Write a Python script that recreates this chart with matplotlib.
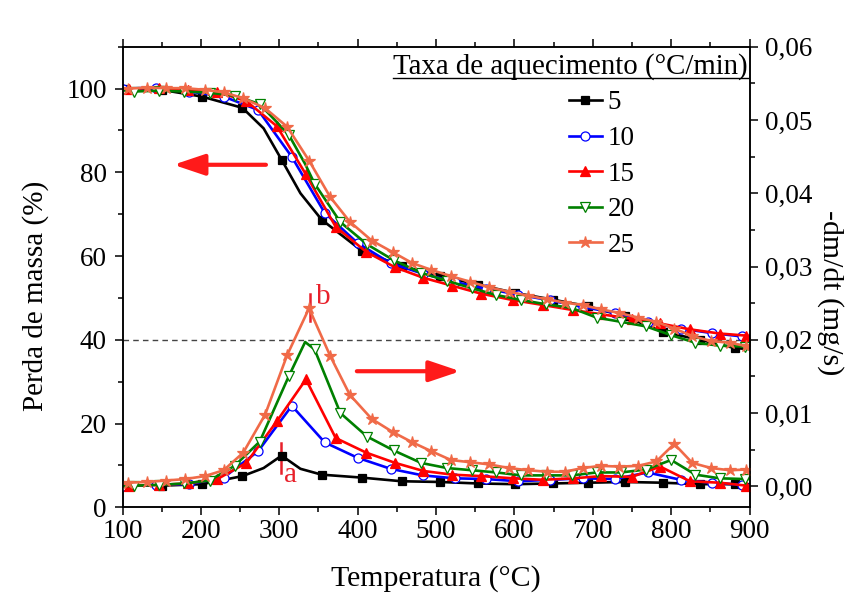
import matplotlib

matplotlib.use("Agg")
import matplotlib.pyplot as plt
from matplotlib.lines import Line2D
from matplotlib.ticker import FuncFormatter, MultipleLocator

plt.rcParams["font.family"] = ["Liberation Serif", "DejaVu Serif"]

# temperature (°C), mass (%) and -dm/dt (mg/s)
# heating rate 5 °C/min
t5 = [100, 150, 201, 253, 280, 303, 327, 354, 405, 456, 505, 553, 601, 649, 694, 741, 789, 837, 882, 900]
m5 = [100.0, 99.7, 98.1, 95.4, 90.5, 83.0, 75.0, 68.7, 61.3, 57.6, 55.3, 53.2, 51.2, 49.6, 48.0, 45.6, 41.9, 40.0, 38.0, 37.8]
d5 = [0.0001, 0.0001, 0.0003, 0.0014, 0.0025, 0.0042, 0.0024, 0.0016, 0.0012, 0.0007, 0.0006, 0.0004,
      0.0003, 0.0004, 0.0005, 0.0006, 0.0005, 0.0003, 0.0003, 0.0003]
nomark5 = [280, 327, 900]

# 10 °C/min
t10 = [100, 143, 185, 229, 273, 316, 358, 400, 442, 483, 524, 564, 605, 646, 688, 728, 770, 812, 852, 891, 900]
m10 = [100.0, 100.2, 99.3, 98.1, 94.9, 83.7, 70.3, 63.1, 58.3, 55.8, 53.8, 52.2, 50.8, 49.4, 47.8, 46.5,
       44.2, 42.7, 41.6, 40.8, 40.6]
d10 = [0.0000, 0.0002, 0.0003, 0.0012, 0.0048, 0.0110, 0.0060, 0.0039, 0.0024, 0.0015, 0.0011, 0.0010,
       0.0007, 0.0009, 0.0011, 0.0010, 0.0019, 0.0009, 0.0005, 0.0002, 0.0002]
nomark10 = [900]

# 15 °C/min
t15 = [100, 108, 146, 183, 221, 258, 297, 334, 372, 411, 448, 484, 521, 558, 598, 637, 675, 711, 750, 786,
       824, 862, 896, 900]
m15 = [100.0, 100.0, 100.2, 99.7, 99.2, 97.0, 91.0, 79.5, 67.0, 61.0, 57.3, 54.8, 52.9, 51.0, 49.5, 48.3,
       47.1, 46.1, 45.0, 43.9, 42.5, 41.5, 41.0, 40.9]
d15 = [0.0001, 0.0001, 0.0002, 0.0004, 0.0010, 0.0032, 0.0089, 0.0146, 0.0066, 0.0046, 0.0032, 0.0021,
       0.0016, 0.0014, 0.0011, 0.0009, 0.0011, 0.0014, 0.0013, 0.0027, 0.0007, 0.0005, 0.0001, 0.0001]
nomark15 = [100, 900]

# 20 °C/min
t20 = [100, 115, 147, 179, 211, 243, 275, 312, 333, 345, 378, 412, 446, 481, 514, 546, 577, 609, 640, 673,
       705, 736, 768, 800, 831, 862, 894, 900]
m20 = [99.6, 99.3, 99.5, 99.3, 99.0, 98.3, 96.3, 89.0, 82.0, 77.3, 68.1, 62.8, 59.0, 56.0, 54.1, 52.3,
       50.7, 49.5, 48.5, 47.6, 45.3, 44.3, 43.2, 41.1, 39.3, 38.6, 38.4, 38.3]
d20 = [0.0000, 0.0001, 0.0002, 0.0004, 0.0008, 0.0028, 0.0061, 0.0150, 0.0197, 0.0187, 0.0100, 0.0068,
       0.0049, 0.0032, 0.0025, 0.0022, 0.0019, 0.0015, 0.0015, 0.0015, 0.0019, 0.0019, 0.0023, 0.0036,
       0.0016, 0.0011, 0.0010, 0.0010]
nomark20 = [100, 333, 900]

# 25 °C/min
t25 = [100, 107, 131, 156, 180, 205, 229, 254, 282, 310, 338, 365, 390, 418, 445, 470, 494, 519, 543, 568,
       593, 618, 641, 664, 687, 710, 734, 758, 781, 804, 827, 851, 875, 896, 900]
m25 = [100.0, 100.0, 100.2, 100.1, 100.1, 99.7, 99.1, 97.7, 95.3, 90.9, 82.8, 74.1, 68.2, 63.7, 60.9, 58.3,
       56.7, 55.2, 53.9, 52.5, 51.5, 50.5, 49.7, 48.9, 48.3, 47.3, 46.4, 45.3, 44.3, 42.7, 40.9, 39.7,
       39.3, 38.5, 38.4]
d25 = [0.0004, 0.0005, 0.0006, 0.0008, 0.0010, 0.0014, 0.0022, 0.0046, 0.0098, 0.0179, 0.0243, 0.0178,
       0.0125, 0.0092, 0.0074, 0.0060, 0.0048, 0.0036, 0.0033, 0.0030, 0.0025, 0.0022, 0.0020, 0.0020,
       0.0025, 0.0028, 0.0027, 0.0028, 0.0034, 0.0058, 0.0032, 0.0025, 0.0022, 0.0023, 0.0023]
nomark25 = [100, 900]

rates = ["5", "10", "15", "20", "25"]

fig = plt.figure(figsize=(8.61, 6.08), dpi=100)
ax = fig.add_axes([0.1423, 0.1656, 0.7282, 0.7576])
ax2 = ax.twinx()

styles = [
    (t5, m5, d5, nomark5, "black", "s", "black", 5.5),
    (t10, m10, d10, nomark10, "#0000ff", "o", "white", 6.5),
    (t15, m15, d15, nomark15, "#ff0000", "^", "#ff0000", 7),
    (t20, m20, d20, nomark20, "#008000", "v", "white", 7),
    (t25, m25, d25, nomark25, "#f06a48", "*", "#f06a48", 9),
]

handles = []
for label, (temps, mass, dtg, nomark, color, marker, face, ms) in zip(rates, styles):
    marks = [i for i, t in enumerate(temps) if t not in nomark]
    kw = dict(color=color, lw=1.9, marker=marker, markevery=marks, markersize=ms,
              markerfacecolor=face, markeredgecolor=color, markeredgewidth=0.9)
    ax.plot(temps, mass, **kw)
    ax2.plot(temps, dtg, **kw)
    handles.append(Line2D([], [], color=color, lw=1.9, marker=marker, markersize=ms,
                          markerfacecolor=face, markeredgecolor=color, markeredgewidth=0.9))

ax.axhline(40, color="#444444", lw=1.0, ls=(0, (4, 3)), zorder=1)

ax.set_xlim(100, 900)
ax.set_ylim(0, 110)
ax2.set_ylim(-0.02 / 7, 0.06)

ax.xaxis.set_major_locator(MultipleLocator(100))
ax.xaxis.set_minor_locator(MultipleLocator(50))
ax.yaxis.set_major_locator(MultipleLocator(20))
ax.yaxis.set_minor_locator(MultipleLocator(10))
ax2.yaxis.set_major_locator(MultipleLocator(0.01))
ax2.yaxis.set_minor_locator(MultipleLocator(0.005))
ax2.yaxis.set_major_formatter(FuncFormatter(lambda v, p: f"{v:.2f}".replace(".", ",")))

for a in (ax, ax2):
    for s in a.spines.values():
        s.set_linewidth(1.1)
    a.tick_params(which="both", direction="out", width=1.1, labelsize=19.5)
    a.tick_params(which="major", length=5.8)
    a.tick_params(which="minor", length=3.3)
ax.tick_params(which="both", top=True)
ax.tick_params(axis="x", pad=2.5)
ax.tick_params(axis="y", pad=5.5)
ax2.tick_params(axis="y", pad=5.5)

ax.set_xlabel("Temperatura (°C)", fontsize=21.5)
ax.xaxis.set_label_coords(0.5, -0.125)
ax.set_ylabel("Perda de massa (%)", fontsize=21)
ax.yaxis.set_label_coords(-0.117, 0.459)
ax2.set_ylabel("-dm/dt (mg/s)", fontsize=21.5, rotation=270, va="bottom")
ax2.yaxis.set_label_coords(1.108, 0.466)

# arrows pointing to each axis
arrow = dict(arrowstyle="-|>,head_length=0.95,head_width=0.32", color="#ff1a1a", lw=3,
             mutation_scale=20, shrinkA=0, shrinkB=0)
ax.annotate("", xy=(165, 81.8), xytext=(283, 81.8), arrowprops=arrow)
ax.annotate("", xy=(531, 32.5), xytext=(399, 32.5), arrowprops=arrow)

# peak markers
ax.plot([302, 302], [8.3, 15.3], color="#e8202a", lw=1.8)
ax.text(314, 7.6, "a", color="#e8202a", fontsize=21, ha="center", va="center")
ax.plot([339, 339], [44.5, 50.9], color="#e8202a", lw=1.8)
ax.text(356, 50.2, "b", color="#e8202a", fontsize=21, ha="center", va="center")

leg = ax2.legend(handles, rates, loc="upper left", bbox_to_anchor=(0.712, 0.905), frameon=False,
                 fontsize=19.5, handlelength=1.22, handletextpad=0.2, labelspacing=0.39,
                 borderpad=0, borderaxespad=0)

title = ax2.text(0.997, 0.958, "Taxa de aquecimento (°C/min)", transform=ax2.transAxes,
                 ha="right", va="center", fontsize=20.8)
fig.canvas.draw()
bb = title.get_window_extent().transformed(ax2.transAxes.inverted())
ax2.plot([bb.x0, bb.x1], [bb.y0 + 0.004, bb.y0 + 0.004], transform=ax2.transAxes,
         color="black", lw=1.0, clip_on=False)

fig.savefig("out.png", dpi=100)
plt.close(fig)
